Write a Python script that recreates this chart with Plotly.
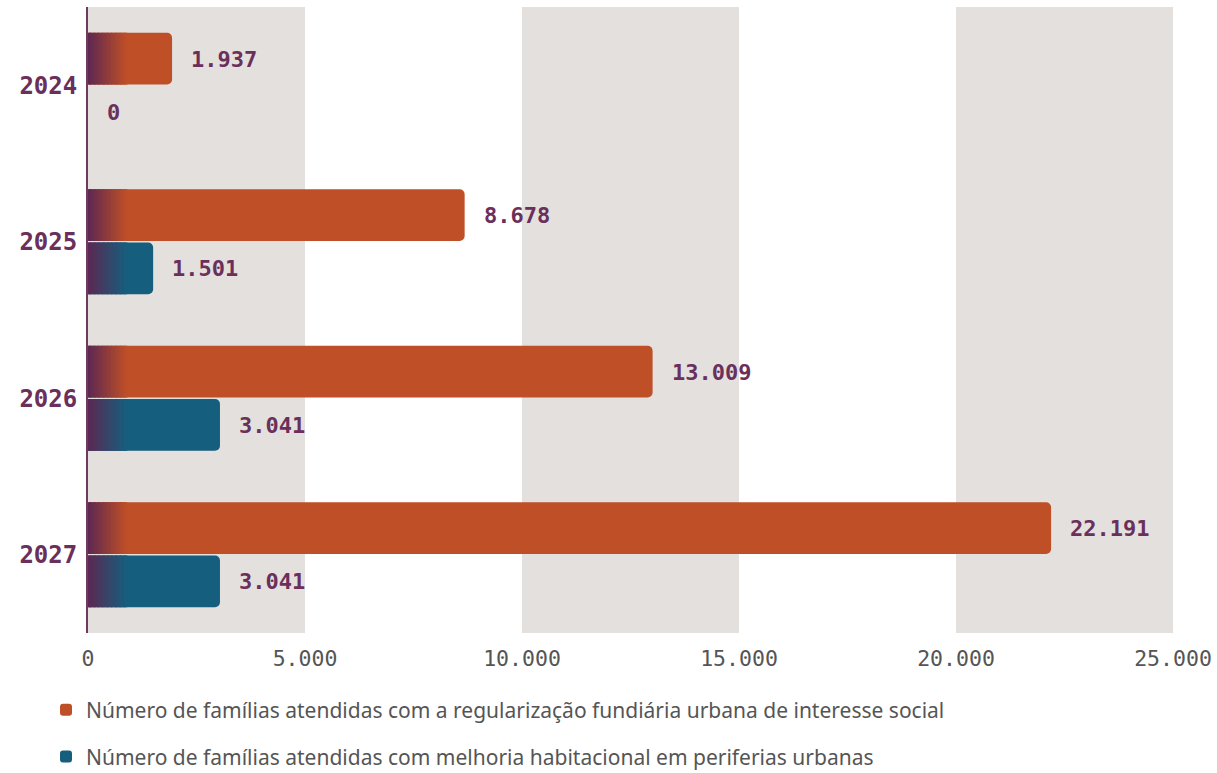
import plotly.graph_objects as go

years = ["2024", "2025", "2026", "2027"]
regularizacao = [1937, 8678, 13009, 22191]
melhoria = [0, 1501, 3041, 3041]
series_names = [
    "Número de famílias atendidas com a regularização fundiária urbana de interesse social",
    "Número de famílias atendidas com melhoria habitacional em periferias urbanas",
]
x_ticks = [0, 5000, 10000, 15000, 20000, 25000]

ORANGE = "#bf4f26"
BLUE = "#165e7d"
PURPLE = "#5c2752"
TEXT_PURPLE = "#6a2f5a"
BAND = "#e3e0de"
MONO = "DejaVu Sans Mono"

GRAD_UNITS = 900
N_SEG = 30


def hex2rgb(h):
    h = h.lstrip("#")
    return tuple(int(h[i:i + 2], 16) for i in (0, 2, 4))


def mix(c1, c2, t):
    a, b = hex2rgb(c1), hex2rgb(c2)
    return "rgb(%d,%d,%d)" % tuple(round(a[i] + (b[i] - a[i]) * t) for i in range(3))


fig = go.Figure()

specs = [
    (regularizacao, ORANGE, -0.335, "legend"),
    (melhoria, BLUE, 0.005, "legend2"),
]
WIDTH = 0.33

for (vals, col, off, leg), name in zip(specs, series_names):
    fig.add_trace(go.Bar(
        y=years, x=vals, orientation="h", name=name,
        marker=dict(color=col, cornerradius=5, line=dict(width=0)),
        offset=off, width=WIDTH, legend=leg, hoverinfo="x",
    ))
    step = GRAD_UNITS / N_SEG
    for i in range(N_SEG):
        base = i * step
        seg = []
        for v in vals:
            w = min(step, max(0, v - base))
            seg.append(w + 0.3 * step if w > 0 else None)
        fig.add_trace(go.Bar(
            y=years, x=seg, base=[base] * len(vals), orientation="h",
            marker=dict(color=mix(PURPLE, col, (i + 0.5) / N_SEG), line=dict(width=0)),
            offset=off, width=WIDTH, showlegend=False, hoverinfo="skip",
        ))

# value labels (y given as category index)
annotations = []
for vals, shift in [(regularizacao, 26), (melhoria, -27)]:
    for idx, v in enumerate(vals):
        annotations.append(dict(
            x=v, y=idx, xref="x", yref="y", text=f"{v:,}".replace(",", "."),
            showarrow=False, xanchor="left", yanchor="middle",
            xshift=17, yshift=shift,
            font=dict(family=MONO, size=22, color=TEXT_PURPLE, weight="bold"),
        ))

# alternating bands
shapes = []
for i in range(0, len(x_ticks) - 1, 2):
    shapes.append(dict(
        type="rect", xref="x", yref="paper", x0=x_ticks[i], x1=x_ticks[i + 1],
        y0=0, y1=1, fillcolor=BAND, line=dict(width=0), layer="below",
    ))

fig.update_layout(
    width=1217, height=773,
    margin=dict(l=88, r=44, t=7, b=140, autoexpand=False),
    paper_bgcolor="white", plot_bgcolor="white",
    barmode="overlay",
    separators=",.",
    shapes=shapes,
    annotations=annotations,
    xaxis=dict(
        range=[0, 25000], tickvals=x_ticks, tickformat=",d",
        showgrid=False, zeroline=False, showline=False, ticks="",
        tickfont=dict(family=MONO, size=21.5, color="#555555"),
        ticklabelstandoff=10, automargin=False,
    ),
    yaxis=dict(
        type="category", categoryorder="array", categoryarray=years,
        range=[len(years) - 0.5, -0.5], autorange=False,
        showgrid=False, zeroline=False,
        showline=True, linecolor="#6e3a60", linewidth=2, ticks="",
        tickfont=dict(family=MONO, size=24, color=TEXT_PURPLE, weight="bold"),
        ticklabelstandoff=4, automargin=False,
    ),
    legend=dict(
        x=-0.0387, y=-0.123, xanchor="left", yanchor="middle",
        font=dict(family="Noto Sans", size=21, color="#555555"),
        bgcolor="rgba(0,0,0,0)",
    ),
    legend2=dict(
        x=-0.0387, y=-0.198, xanchor="left", yanchor="middle",
        font=dict(family="Noto Sans", size=21, color="#555555"),
        bgcolor="rgba(0,0,0,0)",
    ),
)

fig.write_html(
    "out.html",
    config={"displayModeBar": False},
    post_script="document.body.style.margin='0';document.body.style.overflow='hidden';",
)
